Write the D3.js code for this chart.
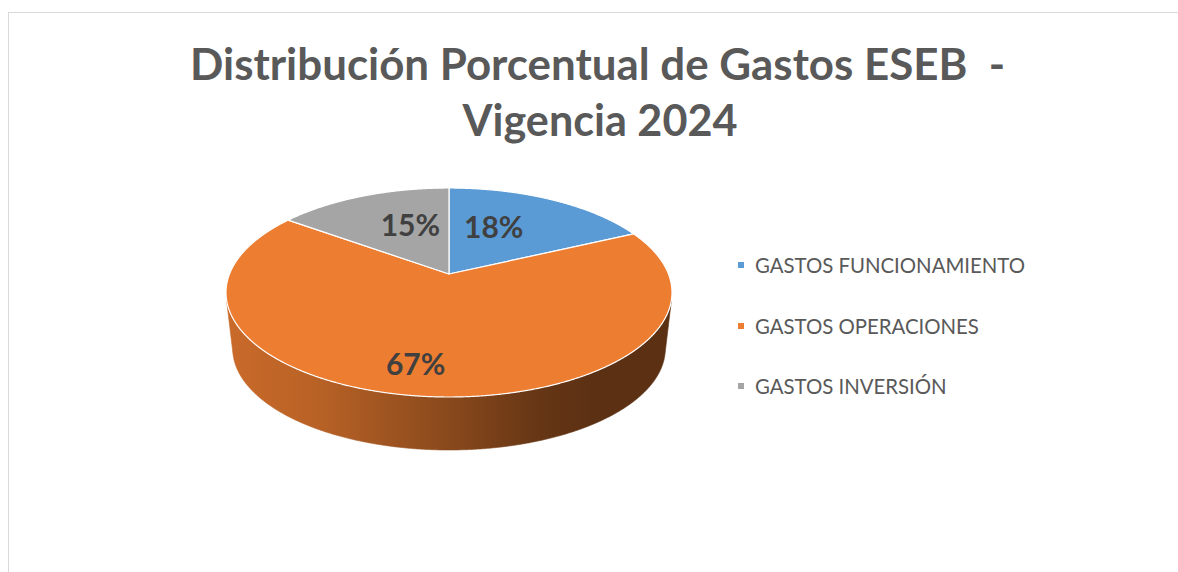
<!DOCTYPE html>
<html>
<head>
<meta charset="utf-8">
<script src="https://cdn.jsdelivr.net/npm/d3@7"></script>
<style>
  html, body { margin: 0; padding: 0; background: #fff; }
  svg { display: block; }
  text { white-space: pre; }
</style>
</head>
<body>
<svg id="chart" width="1178" height="572"></svg>
<script>
// ---- data ----
const categories = ["GASTOS FUNCIONAMIENTO", "GASTOS OPERACIONES", "GASTOS INVERSIÓN"];
const shares = [18, 67, 15];
const sliceColors = ["#5B9BD5", "#ED7D31", "#A5A5A5"];
const titleLines = ["Distribución Porcentual de Gastos ESEB  -", "Vigencia 2024"];

const svg = d3.select("#chart");
const defs = svg.append("defs");

// chart frame (only top and left edges fall inside the view)
svg.append("rect")
  .attr("x", 8.5).attr("y", 12.5)
  .attr("width", 1300).attr("height", 700)
  .attr("fill", "none").attr("stroke", "#d9d9d9").attr("stroke-width", 1);

// ---- title ----
const titleFont = "Lato, 'Open Sans', sans-serif";
const title1 = svg.append("text")
  .attr("x", 190).attr("y", 80)
  .attr("font-family", titleFont).attr("font-weight", 700).attr("font-size", 44)
  .attr("fill", "#595959")
  .attr("textLength", 815).attr("lengthAdjust", "spacingAndGlyphs")
  .text(titleLines[0]);
const title2 = svg.append("text")
  .attr("x", 600 - 137.5).attr("y", 136)
  .attr("font-family", titleFont).attr("font-weight", 700).attr("font-size", 44)
  .attr("fill", "#595959")
  .attr("textLength", 275).attr("lengthAdjust", "spacingAndGlyphs")
  .text(titleLines[1]);

// ---- 3D pie geometry ----
const cx = 449, cy = 292.5;      // centre of the projected top ellipse
const rx = 223, ry = 104.5;      // semi-axes of the top ellipse
const persp = -0.177;            // perspective factor (far side compressed)
const shrink = 0.97;             // bottom rim appears slightly smaller
const depth = 450 - cy - shrink * ry;
const ax = rx * Math.sqrt(1 - persp * persp);

// angle t: radians clockwise from 12 o'clock, r: fraction of radius
function topPt(t, r = 1) {
  const u = r * Math.sin(t), v = -r * Math.cos(t), den = 1 + persp * v;
  return [cx + ax * u / den, cy + ry * (v + persp) / den];
}
function bottomPt(t) {
  const u = Math.sin(t), v = -Math.cos(t), den = 1 + persp * v;
  return [cx + shrink * ax * u / den, cy + depth + shrink * ry * (v + persp) / den];
}

const pie = d3.pie().sort(null).value(d => d)(shares);
const step = Math.PI / 720;

// range of angles whose outer wall faces the viewer
const facing = [];
for (let t = 0; t < 2 * Math.PI; t += step) {
  const p = topPt(t), q = topPt(t + 1e-4), b = bottomPt(t);
  const cross = (q[0] - p[0]) * (b[1] - p[1]) - (q[1] - p[1]) * (b[0] - p[0]);
  if (cross < 0) facing.push(t);
}
const visStart = d3.min(facing), visEnd = d3.max(facing);

// side gradients: lighter on the left, deep shade on the right
const shadeStops = [[0, 0.85], [0.2, 0.78], [0.5, 0.58], [0.7, 0.43], [0.82, 0.39], [1, 0.39]];
sliceColors.forEach((c, i) => {
  const base = d3.rgb(c);
  const g = defs.append("linearGradient")
    .attr("id", "side" + i)
    .attr("gradientUnits", "userSpaceOnUse")
    .attr("x1", cx - rx).attr("x2", cx + rx).attr("y1", 0).attr("y2", 0);
  shadeStops.forEach(([o, f]) => {
    g.append("stop").attr("offset", o)
      .attr("stop-color", d3.rgb(base.r * f, base.g * f, base.b * f).formatHex());
  });
});

const line = d3.line();

// outer walls
pie.forEach((sl, i) => {
  const a0 = Math.max(sl.startAngle, visStart), a1 = Math.min(sl.endAngle, visEnd);
  if (a1 <= a0) return;
  const n = Math.max(2, Math.ceil((a1 - a0) / step));
  const pts = [];
  for (let j = 0; j <= n; j++) pts.push(topPt(a0 + (a1 - a0) * j / n));
  for (let j = n; j >= 0; j--) pts.push(bottomPt(a0 + (a1 - a0) * j / n));
  svg.append("path")
    .attr("d", line(pts) + "Z")
    .attr("fill", `url(#side${i})`)
    .attr("stroke", `url(#side${i})`).attr("stroke-width", 0.6);
});

// top faces
pie.forEach((sl, i) => {
  const n = Math.max(2, Math.ceil((sl.endAngle - sl.startAngle) / step));
  const pts = [topPt(0, 0)];
  for (let j = 0; j <= n; j++) pts.push(topPt(sl.startAngle + (sl.endAngle - sl.startAngle) * j / n));
  svg.append("path")
    .attr("d", line(pts) + "Z")
    .attr("fill", sliceColors[i])
    .attr("stroke", "#ffffff").attr("stroke-width", 1.2)
    .attr("stroke-linejoin", "round");
});

// data labels
const labelRadius = [0.6, 0.77, 0.6];
const labelShift = [-20, -15, 16];
pie.forEach((sl, i) => {
  const mid = (sl.startAngle + sl.endAngle) / 2;
  const p = topPt(mid, labelRadius[i]);
  svg.append("text")
    .attr("x", p[0] + labelShift[i]).attr("y", p[1] + 11)
    .attr("text-anchor", "middle")
    .attr("font-family", titleFont).attr("font-weight", 700).attr("font-size", 30)
    .attr("fill", "#404040")
    .text(d3.format(".0f")(sl.value) + "%");
});

// ---- legend ----
const legendY = [265, 326, 386];
const legend = svg.append("g");
const legendTexts = [];
categories.forEach((name, i) => {
  legend.append("rect")
    .attr("x", 738).attr("y", legendY[i] - 3)
    .attr("width", 6).attr("height", 6)
    .attr("fill", sliceColors[i]);
  legendTexts.push(legend.append("text")
    .attr("x", 755).attr("y", legendY[i] + 8)
    .attr("font-family", titleFont).attr("font-size", 21.5)
    .attr("fill", "#595959")
    .text(name));
});
// condense legend text the same way for every entry
const natural = legendTexts[0].node().getComputedTextLength();
const condense = 270 / natural;
legendTexts.forEach(t => {
  const w = t.node().getComputedTextLength();
  t.attr("textLength", w * condense).attr("lengthAdjust", "spacingAndGlyphs");
});
</script>
</body>
</html>
